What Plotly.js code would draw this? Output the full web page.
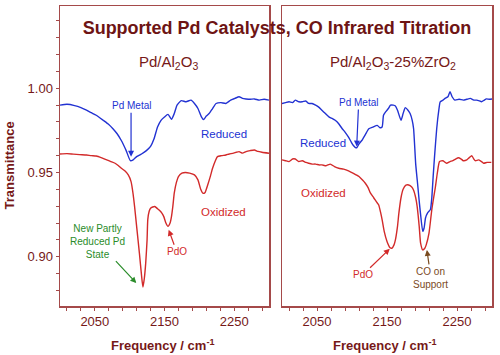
<!DOCTYPE html>
<html>
<head>
<meta charset="utf-8">
<script src="https://cdn.plot.ly/plotly-3.0.1.min.js"></script>
<style>
  html, body { margin: 0; padding: 0; background: #fff; }
  #chart { width: 500px; height: 355px; }
</style>
</head>
<body>
<div id="chart"></div>
<script>
// Pd/Al2O3, reduced (blue) and oxidized (red)
const leftReducedFreq = [2000, 2010, 2021, 2030, 2038, 2045, 2052, 2062, 2070, 2076, 2082, 2088, 2095, 2101, 2105, 2110, 2117, 2124, 2130, 2135, 2140, 2145, 2150, 2155, 2160, 2164, 2168, 2174, 2181, 2188, 2193, 2198, 2203, 2206, 2210, 2214, 2219, 2224, 2231, 2238, 2245, 2251, 2257, 2262, 2267, 2273, 2279, 2286, 2293, 2300];
const leftReducedT = [0.990, 0.9905, 0.9897, 0.9885, 0.987, 0.9855, 0.984, 0.981, 0.9785, 0.976, 0.973, 0.969, 0.963, 0.957, 0.9575, 0.9594, 0.961, 0.963, 0.9655, 0.970, 0.977, 0.981, 0.983, 0.9845, 0.9816, 0.985, 0.990, 0.9927, 0.992, 0.993, 0.991, 0.988, 0.983, 0.9814, 0.9835, 0.985, 0.988, 0.991, 0.9915, 0.991, 0.993, 0.994, 0.995, 0.994, 0.9937, 0.9935, 0.9937, 0.993, 0.9935, 0.993];

const leftOxidizedFreq = [2000, 2010, 2019, 2028, 2038, 2045, 2052, 2060, 2067, 2073, 2079, 2084, 2088, 2093, 2098, 2102, 2105, 2107, 2110, 2114, 2117, 2119, 2121, 2123, 2125, 2126, 2128, 2130, 2133, 2136, 2140, 2143, 2146, 2149, 2152, 2155, 2158, 2160, 2162, 2164, 2167, 2170, 2175, 2180, 2186, 2193, 2198, 2202, 2205, 2208, 2212, 2216, 2219, 2223, 2226, 2232, 2238, 2243, 2248, 2253, 2257, 2262, 2267, 2273, 2279, 2284, 2290, 2300];
const leftOxidizedT = [0.961, 0.9612, 0.9609, 0.9606, 0.9604, 0.960, 0.9598, 0.9587, 0.9575, 0.9565, 0.9555, 0.954, 0.9525, 0.951, 0.9486, 0.9446, 0.937, 0.930, 0.918, 0.902, 0.889, 0.882, 0.887, 0.896, 0.910, 0.922, 0.927, 0.9288, 0.9295, 0.9298, 0.9285, 0.9274, 0.926, 0.9238, 0.920, 0.918, 0.920, 0.9238, 0.930, 0.9377, 0.944, 0.9476, 0.9496, 0.950, 0.9496, 0.9486, 0.9456, 0.940, 0.9377, 0.938, 0.9426, 0.948, 0.9525, 0.957, 0.9594, 0.960, 0.9604, 0.961, 0.9614, 0.962, 0.9624, 0.9615, 0.9624, 0.963, 0.9634, 0.9625, 0.962, 0.9614];

// Pd/Al2O3-25%ZrO2, reduced (blue) and oxidized (red)
const rightReducedFreq = [2000, 2005, 2010, 2015, 2019, 2024, 2029, 2034, 2038, 2043, 2048, 2052, 2057, 2062, 2067, 2072, 2076, 2081, 2086, 2090, 2095, 2099, 2102, 2105, 2107, 2110, 2114, 2119, 2124, 2130, 2136, 2140, 2143, 2145, 2148, 2152, 2155, 2159, 2162, 2165, 2170, 2173, 2176, 2180, 2183, 2186, 2188, 2191, 2194, 2196, 2198, 2201, 2203, 2205, 2208, 2212, 2214, 2216, 2218, 2221, 2224, 2226, 2230, 2233, 2237, 2240, 2243, 2247, 2253, 2259, 2264, 2269, 2274, 2278, 2282, 2285, 2289, 2292, 2296, 2300];
const rightReducedT = [0.991, 0.9915, 0.992, 0.9915, 0.993, 0.992, 0.992, 0.9925, 0.991, 0.991, 0.990, 0.989, 0.987, 0.985, 0.983, 0.982, 0.981, 0.979, 0.976, 0.974, 0.971, 0.968, 0.966, 0.9648, 0.9648, 0.967, 0.969, 0.9725, 0.976, 0.977, 0.978, 0.9766, 0.977, 0.984, 0.986, 0.988, 0.990, 0.990, 0.9895, 0.987, 0.981, 0.985, 0.9885, 0.987, 0.985, 0.981, 0.976, 0.955, 0.942, 0.933, 0.925, 0.915, 0.917, 0.923, 0.926, 0.928, 0.935, 0.948, 0.960, 0.976, 0.987, 0.992, 0.993, 0.994, 0.995, 0.998, 0.995, 0.993, 0.9935, 0.993, 0.9935, 0.994, 0.993, 0.993, 0.9925, 0.992, 0.993, 0.9937, 0.9935, 0.9937];

const rightOxidizedFreq = [2000, 2005, 2010, 2015, 2019, 2024, 2029, 2034, 2038, 2043, 2048, 2053, 2057, 2063, 2069, 2075, 2081, 2088, 2095, 2102, 2110, 2115, 2119, 2123, 2126, 2131, 2135, 2138, 2141, 2143, 2146, 2150, 2154, 2157, 2160, 2162, 2165, 2167, 2170, 2173, 2177, 2181, 2185, 2188, 2191, 2193, 2196, 2198, 2201, 2204, 2206, 2210, 2214, 2217, 2219, 2222, 2225, 2230, 2235, 2240, 2244, 2248, 2252, 2256, 2259, 2264, 2268, 2271, 2274, 2276, 2281, 2285, 2288, 2293, 2299];
const rightOxidizedT = [0.9575, 0.957, 0.9565, 0.958, 0.958, 0.9565, 0.957, 0.956, 0.9555, 0.955, 0.955, 0.9545, 0.9545, 0.954, 0.955, 0.9535, 0.9525, 0.952, 0.951, 0.9495, 0.9476, 0.9455, 0.9436, 0.941, 0.938, 0.935, 0.9325, 0.9308, 0.926, 0.922, 0.915, 0.909, 0.9055, 0.905, 0.907, 0.910, 0.918, 0.926, 0.935, 0.940, 0.9425, 0.9426, 0.9415, 0.9395, 0.935, 0.930, 0.918, 0.908, 0.904, 0.905, 0.907, 0.914, 0.928, 0.936, 0.941, 0.950, 0.9565, 0.957, 0.9555, 0.9565, 0.957, 0.958, 0.9588, 0.958, 0.957, 0.9575, 0.959, 0.960, 0.958, 0.957, 0.9575, 0.9565, 0.9555, 0.956, 0.956];

const xTickVals = [2050, 2150, 2250];
const xTickText = ['2050', '2150', '2250'];
const yTickVals = [0.90, 0.95, 1.00];
const yTickText = ['0.90', '0.95', '1.00'];

const FONT = 'Liberation Sans, Arial, Helvetica, sans-serif';
const MAROON = '#761818';
const FRAME = '#a54a4a';
const BLUE = '#2232d2';
const RED = '#d22a2a';
const GREEN = '#2a8c2a';
const BROWN = '#7a4a1e';

function spectrum(x, y, color, xa, ya) {
    return {
        x: x, y: y, xaxis: xa, yaxis: ya,
        type: 'scatter', mode: 'lines',
        line: {color: color, width: 1.4, shape: 'spline', smoothing: 0.5},
        hoverinfo: 'skip', showlegend: false
    };
}

const traces = [
    spectrum(leftOxidizedFreq, leftOxidizedT, RED, 'x', 'y'),
    spectrum(leftReducedFreq, leftReducedT, BLUE, 'x', 'y'),
    spectrum(rightOxidizedFreq, rightOxidizedT, RED, 'x2', 'y2'),
    spectrum(rightReducedFreq, rightReducedT, BLUE, 'x2', 'y2')
];

function xAxis(domain, anchor) {
    return {
        domain: domain, anchor: anchor, range: [2000, 2300],
        tickvals: xTickVals, ticktext: xTickText,
        ticks: 'outside', ticklen: 3, tickwidth: 1, tickcolor: FRAME,
        minor: {tick0: 2010, dtick: 20, ticks: 'outside', ticklen: 3, tickwidth: 1, tickcolor: FRAME, showgrid: false},
        tickfont: {family: FONT, size: 13, color: MAROON},
        showline: true, mirror: true, linecolor: FRAME, linewidth: 1.5,
        showgrid: false, zeroline: false
    };
}

const yRange = [0.8707, 1.0489];

function label(text, x, y, xref, yref, color, size) {
    return {text: text, x: x, y: y, xref: xref, yref: yref, showarrow: false,
            xanchor: 'center', yanchor: 'middle',
            font: {family: FONT, size: size, color: color}};
}
function pointer(text, x, y, xref, yref, ax, ay, color, size) {
    return {text: text, x: x, y: y, xref: xref, yref: yref, ax: ax, ay: ay,
            showarrow: true, arrowhead: 2, arrowsize: 1, arrowwidth: 1.2, arrowcolor: color,
            font: {family: FONT, size: size, color: color}};
}
function axisTitle(text, x, y, xref, angle) {
    return {text: text, x: x, y: y, xref: xref, yref: 'paper', showarrow: false,
            xanchor: 'center', yanchor: 'middle', textangle: angle,
            font: {family: FONT, size: 13, color: MAROON, weight: 'bold'}};
}

const layout = {
    width: 500, height: 355,
    margin: {l: 60, r: 8, t: 6, b: 49},
    paper_bgcolor: '#fff', plot_bgcolor: '#fff',
    showlegend: false,
    title: {
        text: 'Supported Pd Catalysts, CO Infrared Titration',
        x: 277 / 500, xanchor: 'center', y: 1 - 28 / 355, yanchor: 'middle',
        font: {family: FONT, size: 18, color: '#6e1414', weight: 'bold'}
    },
    xaxis: xAxis([0, 0.4838], 'y'),
    xaxis2: xAxis([0.5139, 1], 'y2'),
    yaxis: {
        domain: [0, 1], anchor: 'x', range: yRange,
        tickvals: yTickVals, ticktext: yTickText,
        ticks: 'outside', ticklen: 3, tickwidth: 1, tickcolor: FRAME,
        minor: {tick0: 0.88, dtick: 0.01, ticks: 'outside', ticklen: 3, tickwidth: 1, tickcolor: FRAME, showgrid: false},
        tickfont: {family: FONT, size: 13, color: MAROON},
        showline: true, mirror: true, linecolor: FRAME, linewidth: 1.5,
        showgrid: false, zeroline: false
    },
    yaxis2: {
        domain: [0, 1], anchor: 'x2', range: yRange,
        showticklabels: false, ticks: '',
        showline: true, mirror: true, linecolor: FRAME, linewidth: 1.5,
        showgrid: false, zeroline: false
    },
    annotations: [
        axisTitle('Transmittance', -0.117, 0.47, 'paper', -90),
        axisTitle('Frequency / cm<sup>-1</sup>', 0.49, -0.13, 'x domain', 0),
        axisTitle('Frequency / cm<sup>-1</sup>', 0.49, -0.13, 'x2 domain', 0),
        label('Pd/Al<sub>2</sub>O<sub>3</sub>', 0.25, 0.8133, 'paper', 'paper', MAROON, 15),
        label('Pd/Al<sub>2</sub>O<sub>3</sub>-25%ZrO<sub>2</sub>', 0.7708, 0.8133, 'paper', 'paper', MAROON, 15),
        label('Reduced', 2235.7, 0.9729, 'x', 'y', BLUE, 11.5),
        label('Oxidized', 2234.3, 0.9266, 'x', 'y', RED, 11.5),
        label('Reduced', 2059, 0.9674, 'x2', 'y2', BLUE, 11.5),
        label('Oxidized', 2059, 0.938, 'x2', 'y2', RED, 11.5),
        pointer('Pd Metal', 2102, 0.9594, 'x', 'y', 0, -51, BLUE, 10),
        pointer('PdO', 2156, 0.916, 'x', 'y', 8, 22, RED, 10),
        pointer('New Partly<br>Reduced Pd<br>State', 2109.5, 0.8843, 'x', 'y', -39, -42, GREEN, 10),
        pointer('Pd Metal', 2106.7, 0.9654, 'x2', 'y2', 2, -44, BLUE, 10),
        pointer('PdO', 2154, 0.9047, 'x2', 'y2', -27, 26, RED, 10),
        pointer('CO on<br>Support', 2207, 0.904, 'x2', 'y2', 4, 28, BROWN, 10)
    ]
};

Plotly.newPlot('chart', traces, layout, {staticPlot: true, displayModeBar: false});
</script>
</body>
</html>
